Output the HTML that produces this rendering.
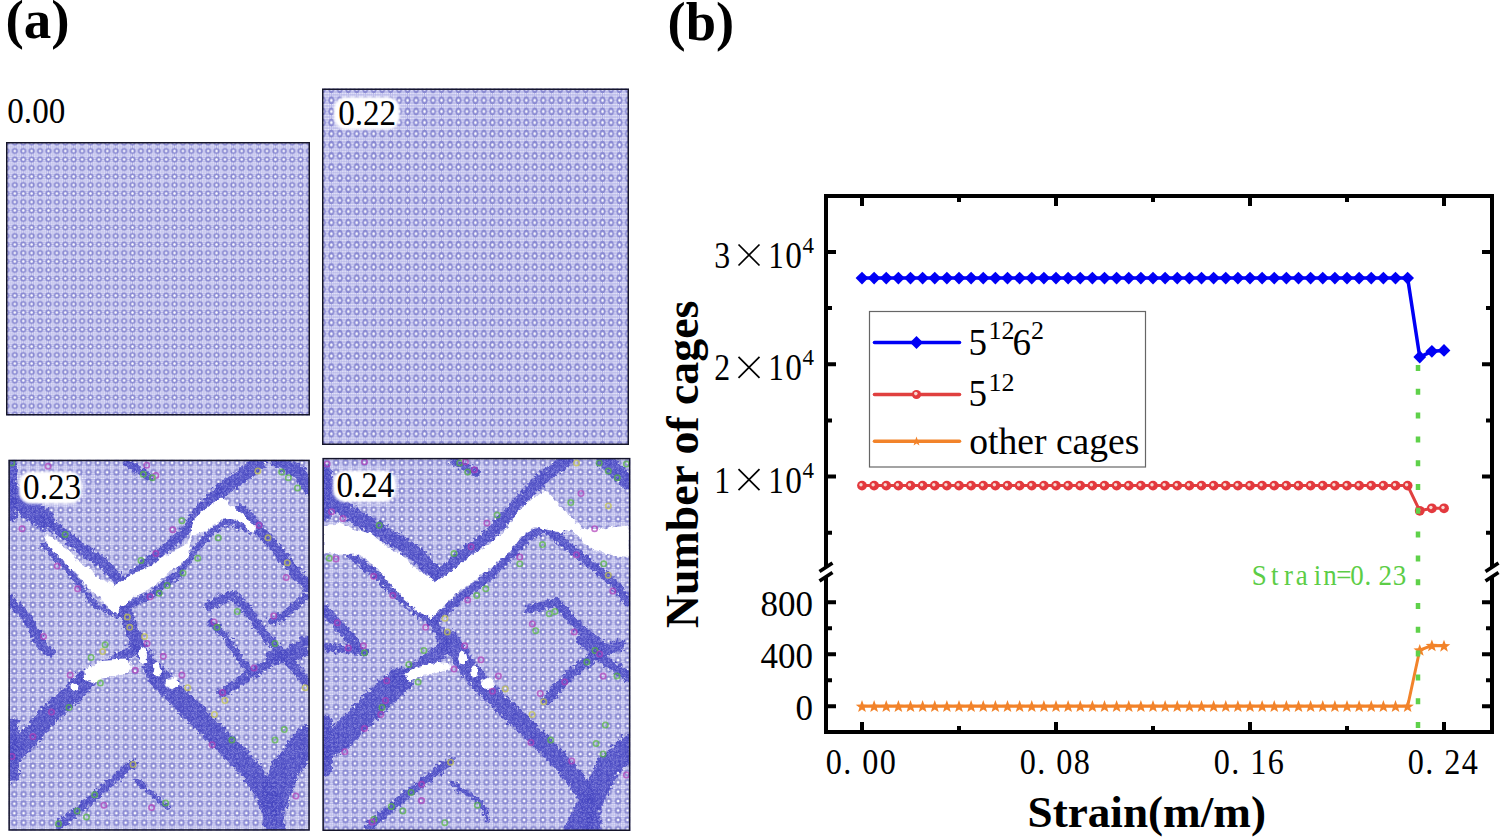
<!DOCTYPE html>
<html><head><meta charset="utf-8"><style>
html,body{margin:0;padding:0;background:#fff;}
svg{display:block;}
text{font-family:"Liberation Serif",serif;}
</style></head><body>
<svg width="1500" height="838" viewBox="0 0 1500 838">
<defs>

<pattern id="latA" patternUnits="userSpaceOnUse" width="10" height="10" patternTransform="translate(2.248,2.25) scale(0.8404,0.85)"><rect width="10" height="10" fill="#b4b4e8"/>
<g fill="#f6f6ff"><circle cx="1.25" cy="1.25" r="0.85"/><circle cx="1.25" cy="3.75" r="0.85"/><circle cx="1.25" cy="6.25" r="0.85"/><circle cx="1.25" cy="8.75" r="0.85"/><circle cx="3.75" cy="1.25" r="0.85"/><circle cx="3.75" cy="8.75" r="0.85"/><circle cx="6.25" cy="1.25" r="0.85"/><circle cx="6.25" cy="8.75" r="0.85"/><circle cx="8.75" cy="1.25" r="0.85"/><circle cx="8.75" cy="3.75" r="0.85"/><circle cx="8.75" cy="6.25" r="0.85"/><circle cx="8.75" cy="8.75" r="0.85"/></g>
<circle cx="5" cy="5" r="2.7" fill="none" stroke="#8989d2" stroke-width="1.9"/>
<circle cx="5" cy="5" r="1.3" fill="#ffffff"/>
</pattern>
<pattern id="latB" patternUnits="userSpaceOnUse" width="10" height="10" patternTransform="translate(-3.4880000000000004,-5.2575) scale(0.8476,1.1115)"><rect width="10" height="10" fill="#b4b4e8"/>
<g fill="#f6f6ff"><circle cx="1.25" cy="1.25" r="0.85"/><circle cx="1.25" cy="3.75" r="0.85"/><circle cx="1.25" cy="6.25" r="0.85"/><circle cx="1.25" cy="8.75" r="0.85"/><circle cx="3.75" cy="1.25" r="0.85"/><circle cx="3.75" cy="8.75" r="0.85"/><circle cx="6.25" cy="1.25" r="0.85"/><circle cx="6.25" cy="8.75" r="0.85"/><circle cx="8.75" cy="1.25" r="0.85"/><circle cx="8.75" cy="3.75" r="0.85"/><circle cx="8.75" cy="6.25" r="0.85"/><circle cx="8.75" cy="8.75" r="0.85"/></g>
<circle cx="5" cy="5" r="2.7" fill="none" stroke="#8989d2" stroke-width="1.9"/>
<circle cx="5" cy="5" r="1.3" fill="#ffffff"/>
</pattern>
<pattern id="latC" patternUnits="userSpaceOnUse" width="10" height="10" patternTransform="translate(0.40000000000000036,3.5149999999999997) scale(0.928,0.947)"><rect width="10" height="10" fill="#b4b4e8"/>
<g fill="#f6f6ff"><circle cx="1.25" cy="1.25" r="0.85"/><circle cx="1.25" cy="3.75" r="0.85"/><circle cx="1.25" cy="6.25" r="0.85"/><circle cx="1.25" cy="8.75" r="0.85"/><circle cx="3.75" cy="1.25" r="0.85"/><circle cx="3.75" cy="8.75" r="0.85"/><circle cx="6.25" cy="1.25" r="0.85"/><circle cx="6.25" cy="8.75" r="0.85"/><circle cx="8.75" cy="1.25" r="0.85"/><circle cx="8.75" cy="3.75" r="0.85"/><circle cx="8.75" cy="6.25" r="0.85"/><circle cx="8.75" cy="8.75" r="0.85"/></g>
<circle cx="5" cy="5" r="2.7" fill="none" stroke="#8989d2" stroke-width="1.9"/>
<circle cx="5" cy="5" r="1.3" fill="#ffffff"/>
</pattern>
<pattern id="latD" patternUnits="userSpaceOnUse" width="10" height="10" patternTransform="translate(322,458) scale(0.94,0.94)"><rect width="10" height="10" fill="#b4b4e8"/>
<g fill="#f6f6ff"><circle cx="1.25" cy="1.25" r="0.85"/><circle cx="1.25" cy="3.75" r="0.85"/><circle cx="1.25" cy="6.25" r="0.85"/><circle cx="1.25" cy="8.75" r="0.85"/><circle cx="3.75" cy="1.25" r="0.85"/><circle cx="3.75" cy="8.75" r="0.85"/><circle cx="6.25" cy="1.25" r="0.85"/><circle cx="6.25" cy="8.75" r="0.85"/><circle cx="8.75" cy="1.25" r="0.85"/><circle cx="8.75" cy="3.75" r="0.85"/><circle cx="8.75" cy="6.25" r="0.85"/><circle cx="8.75" cy="8.75" r="0.85"/></g>
<circle cx="5" cy="5" r="2.7" fill="none" stroke="#8989d2" stroke-width="1.9"/>
<circle cx="5" cy="5" r="1.3" fill="#ffffff"/>
</pattern>
<pattern id="bandpat" patternUnits="userSpaceOnUse" width="4" height="4"><rect width="4" height="4" fill="#3232bc"/><circle cx="1" cy="1" r="0.75" fill="#9090e4"/><circle cx="3" cy="3" r="0.6" fill="#6a6ad4"/></pattern>
<filter id="fl" x="0" y="0" width="100%" height="100%"><feGaussianBlur stdDeviation="0.45"/></filter>
<filter id="fz" x="-10%" y="-10%" width="120%" height="120%"><feTurbulence type="fractalNoise" baseFrequency="0.3" numOctaves="2" seed="3" result="t"/><feDisplacementMap in="SourceGraphic" in2="t" scale="9" xChannelSelector="R" yChannelSelector="G" result="d"/><feGaussianBlur in="d" stdDeviation="0.6"/></filter>
<filter id="fw" x="-10%" y="-10%" width="120%" height="120%"><feTurbulence type="fractalNoise" baseFrequency="0.22" numOctaves="2" seed="7" result="t"/><feDisplacementMap in="SourceGraphic" in2="t" scale="6" xChannelSelector="R" yChannelSelector="G" result="d"/><feGaussianBlur in="d" stdDeviation="0.5"/></filter>
<filter id="blur1" x="-20%" y="-20%" width="140%" height="140%"><feGaussianBlur stdDeviation="1.2"/></filter>
<clipPath id="c23"><rect x="9.5" y="460.5" width="299.5" height="369.5"/></clipPath>
<clipPath id="c24"><rect x="323.5" y="459" width="306" height="371"/></clipPath>
</defs>
<text x="5.5" y="38" font-size="55" font-weight="bold">(a)</text>
<text x="667.5" y="40" font-size="54.5" font-weight="bold">(b)</text>
<rect x="6" y="142" width="304" height="273.5" fill="url(#latA)" filter="url(#fl)"/>
<rect x="6.75" y="142.75" width="302.5" height="272.0" fill="none" stroke="#15152a" stroke-width="1.5"/>
<rect x="322" y="88.5" width="307" height="356.5" fill="url(#latB)" filter="url(#fl)"/>
<rect x="322.75" y="89.25" width="305.5" height="355.0" fill="none" stroke="#15152a" stroke-width="1.5"/>
<rect x="8.4" y="459.7" width="301.40000000000003" height="371.00000000000006" fill="url(#latC)" filter="url(#fl)"/>
<rect x="322.4" y="457.9" width="308.0" height="373.1" fill="url(#latD)" filter="url(#fl)"/>
<g clip-path="url(#c23)">
<g filter="url(#fz)" stroke="url(#bandpat)" stroke-opacity="0.9" fill="none" stroke-linecap="round" stroke-linejoin="round">
<polyline points="11,462 11,515" stroke-width="12"/>
<polyline points="9.5,490 27.7,508 45,520" stroke-width="20"/>
<polyline points="45,520 50.4,524 79.8,547 104.8,565 120.6,582" stroke-width="11"/>
<polyline points="44,545 70,572 95,605 118,615" stroke-width="6"/>
<polyline points="122.9,585 145.6,563 168.3,547 186.4,530 200,509 220.4,491" stroke-width="10"/>
<polyline points="220.4,491 243.1,475 259,462" stroke-width="14"/>
<polyline points="122,608 154,593 180,572 197,548 212,531 227,521 241,525 256,533" stroke-width="7"/>
<polyline points="240.8,509.4 259,529.8 277.1,550.2 295.3,572.9 308.9,586.5" stroke-width="11"/>
<polyline points="277,459.5 300,473 309,487" stroke-width="14"/>
<polyline points="127,462 150,478" stroke-width="8"/>
<polyline points="208.6,605.8 233.5,594.4 246.8,609.7 260.2,628.8 279.3,651.7 294.6,667 306,682" stroke-width="9"/>
<polyline points="210.6,623 225.8,636.4 241.1,661.2 256.4,674.6" stroke-width="7"/>
<polyline points="269.8,655.5 287,659.3 306,651.7" stroke-width="9"/>
<polyline points="304,598 283,617 272,621" stroke-width="8"/>
<polyline points="9.5,600 27.7,618 41,645 50,652" stroke-width="10"/>
<polyline points="10,756 29.8,737.3 47.7,715.8 65.6,700.3 84,681" stroke-width="20"/>
<polyline points="84,677 102.7,667.9 135.3,649.3" stroke-width="12"/>
<polyline points="12,725 12,775" stroke-width="14"/>
<polyline points="122.9,605 135.3,640 156.3,674.9" stroke-width="14"/>
<polyline points="156.3,674.9 179.5,698.2 214.4,733.1 249.4,768 272.6,802.9 275,835" stroke-width="21"/>
<polyline points="307.5,740 284.3,770.3 272.6,802.9" stroke-width="28"/>
<polyline points="221.4,693.5 256.3,670.3 284.3,654 307.5,640" stroke-width="9"/>
<polyline points="58.5,826.2 98.1,793.6 133,763.3" stroke-width="8"/>
<polyline points="135.3,779.6 167.9,807.6" stroke-width="5"/>
</g>
<rect x="8.4" y="459.7" width="301.40000000000003" height="371.00000000000006" fill="url(#latC)" opacity="0.2"/>
<g fill="#ffffff" filter="url(#fw)">
<polygon points="45.5,535 53.3,537.5 61,545 68.8,550 76.5,559 81.2,563.5 90.5,568.5 96.7,577.5 110.6,582.5 121.5,590 118.4,614.5 110.6,610 98.2,596 88.9,588.5 81.2,579 76.5,573 68.8,568 64.1,560.5 57.9,556 50.2,548 45.5,540.5"/>
<polygon points="115,585 136.7,571.5 151.7,565 171.8,552 188.5,543 193.5,519.5 208.5,506.5 221.9,497.5 231.9,506 245.3,516 255.3,527 253.6,534 241.9,523 231.9,519 221.9,519 208.5,530 191.8,535.5 186.8,560 173.5,568.5 155.1,585 136.7,595 125,605 115,608"/>
<polygon points="84.1,670.3 102.7,659.8 126,658.6 133,665.6 128.3,672.6 107.4,677.2 93.4,683.1 85.3,679.6"/>
<ellipse cx="75" cy="687" rx="4.5" ry="3.8"/>
<ellipse cx="143" cy="656" rx="4" ry="9"/>
<ellipse cx="157" cy="670" rx="4" ry="7"/>
<ellipse cx="172" cy="683" rx="6.5" ry="6"/>
</g>
<g fill="none" stroke-width="1.6" opacity="0.7">
<circle cx="11.8" cy="462.9" r="2.7" stroke="#55b83c"/>
<circle cx="48.1" cy="466.3" r="2.7" stroke="#b03cb8"/>
<circle cx="146.7" cy="465.2" r="2.7" stroke="#b03cb8"/>
<circle cx="143.3" cy="474.3" r="2.7" stroke="#55b83c"/>
<circle cx="155.8" cy="475.4" r="2.7" stroke="#b03cb8"/>
<circle cx="152.4" cy="477.7" r="2.7" stroke="#55b83c"/>
<circle cx="257.8" cy="470.9" r="2.7" stroke="#c8c84a"/>
<circle cx="281.6" cy="472" r="2.7" stroke="#55b83c"/>
<circle cx="288.4" cy="477.7" r="2.7" stroke="#55b83c"/>
<circle cx="297.5" cy="487.9" r="2.7" stroke="#55b83c"/>
<circle cx="22" cy="528.7" r="2.7" stroke="#b03cb8"/>
<circle cx="65.1" cy="534.4" r="2.7" stroke="#55b83c"/>
<circle cx="57.2" cy="566.1" r="2.7" stroke="#b03cb8"/>
<circle cx="181.9" cy="520.8" r="2.7" stroke="#55b83c"/>
<circle cx="172.8" cy="529.8" r="2.7" stroke="#b03cb8"/>
<circle cx="141" cy="560.4" r="2.7" stroke="#55b83c"/>
<circle cx="155.8" cy="553.6" r="2.7" stroke="#b03cb8"/>
<circle cx="197.7" cy="558.2" r="2.7" stroke="#55b83c"/>
<circle cx="218.2" cy="537.8" r="2.7" stroke="#55b83c"/>
<circle cx="259" cy="525.3" r="2.7" stroke="#b03cb8"/>
<circle cx="268" cy="537.8" r="2.7" stroke="#c8c84a"/>
<circle cx="287.3" cy="562.7" r="2.7" stroke="#c8c84a"/>
<circle cx="286.2" cy="577.4" r="2.7" stroke="#b03cb8"/>
<circle cx="183" cy="572.9" r="2.7" stroke="#55b83c"/>
<circle cx="167.1" cy="585.4" r="2.7" stroke="#55b83c"/>
<circle cx="159.2" cy="593.3" r="2.7" stroke="#55b83c"/>
<circle cx="150.1" cy="596.7" r="2.7" stroke="#b03cb8"/>
<circle cx="77.6" cy="588.8" r="2.7" stroke="#b03cb8"/>
<circle cx="127.4" cy="617.1" r="2.7" stroke="#c8c84a"/>
<circle cx="129.7" cy="627.3" r="2.7" stroke="#c8c84a"/>
<circle cx="214" cy="622" r="2.7" stroke="#b03cb8"/>
<circle cx="217" cy="627.3" r="2.7" stroke="#55b83c"/>
<circle cx="237.3" cy="611.5" r="2.7" stroke="#55b83c"/>
<circle cx="273.7" cy="616" r="2.7" stroke="#b03cb8"/>
<circle cx="43.5" cy="636.4" r="2.7" stroke="#b03cb8"/>
<circle cx="144.5" cy="636.4" r="2.7" stroke="#c8c84a"/>
<circle cx="105.1" cy="644.7" r="2.7" stroke="#55b83c"/>
<circle cx="102.7" cy="651.6" r="2.7" stroke="#c8c84a"/>
<circle cx="91.1" cy="657.5" r="2.7" stroke="#55b83c"/>
<circle cx="70.2" cy="674.9" r="2.7" stroke="#b03cb8"/>
<circle cx="100.4" cy="683.1" r="2.7" stroke="#55b83c"/>
<circle cx="147" cy="643.5" r="2.7" stroke="#b03cb8"/>
<circle cx="163.3" cy="656.3" r="2.7" stroke="#b03cb8"/>
<circle cx="181.9" cy="674.9" r="2.7" stroke="#b03cb8"/>
<circle cx="187.7" cy="687.7" r="2.7" stroke="#c8c84a"/>
<circle cx="135.3" cy="670.3" r="2.7" stroke="#b03cb8"/>
<circle cx="214.4" cy="714.5" r="2.7" stroke="#c8c84a"/>
<circle cx="231.9" cy="740.1" r="2.7" stroke="#55b83c"/>
<circle cx="212.1" cy="744.7" r="2.7" stroke="#b03cb8"/>
<circle cx="224.9" cy="700.5" r="2.7" stroke="#c8c84a"/>
<circle cx="222.6" cy="692.4" r="2.7" stroke="#b03cb8"/>
<circle cx="305.2" cy="687.7" r="2.7" stroke="#c8c84a"/>
<circle cx="275" cy="643.5" r="2.7" stroke="#55b83c"/>
<circle cx="284.3" cy="729.6" r="2.7" stroke="#55b83c"/>
<circle cx="275" cy="740.1" r="2.7" stroke="#55b83c"/>
<circle cx="254" cy="667.9" r="2.7" stroke="#b03cb8"/>
<circle cx="32.9" cy="736.6" r="2.7" stroke="#b03cb8"/>
<circle cx="12" cy="756.4" r="2.7" stroke="#b03cb8"/>
<circle cx="51.5" cy="712.1" r="2.7" stroke="#b03cb8"/>
<circle cx="69" cy="707.5" r="2.7" stroke="#55b83c"/>
<circle cx="295.9" cy="795.9" r="2.7" stroke="#b03cb8"/>
<circle cx="133" cy="764.5" r="2.7" stroke="#c8c84a"/>
<circle cx="94.6" cy="794.8" r="2.7" stroke="#55b83c"/>
<circle cx="103.9" cy="805.2" r="2.7" stroke="#b03cb8"/>
<circle cx="77.1" cy="811" r="2.7" stroke="#55b83c"/>
<circle cx="86.5" cy="816.9" r="2.7" stroke="#55b83c"/>
<circle cx="58.5" cy="823.8" r="2.7" stroke="#55b83c"/>
<circle cx="151.6" cy="807.6" r="2.7" stroke="#b03cb8"/>
<circle cx="165.6" cy="802.9" r="2.7" stroke="#55b83c"/>
</g></g>
<g clip-path="url(#c24)">
<g filter="url(#fz)" stroke="url(#bandpat)" stroke-opacity="0.9" fill="none" stroke-linecap="round" stroke-linejoin="round">
<polyline points="325,470 325,515" stroke-width="12"/>
<polyline points="324.8,477.7 331.6,500.4 352,514 374.7,527.6 397.4,541.2 420,557 435.9,575.2" stroke-width="15"/>
<polyline points="438.2,577.4 465.4,552.5 490.3,534.4 510.7,511.7 533.4,486.7 551.6,470.9 567.4,459.5" stroke-width="12"/>
<polyline points="435.9,618.3 463.1,595.6 490.3,575.2 510.7,554.8 528.9,536.6 544.8,527.6 558.4,532.1" stroke-width="9"/>
<polyline points="544.8,527.6 567.4,545.7 590.1,563.8 612.8,582 628.7,602.4" stroke-width="9"/>
<polyline points="349.7,554.8 374.7,572.9 397.4,595.6 420,613.7 433.6,622.8" stroke-width="8"/>
<polyline points="603.7,459.5 628.7,482.2" stroke-width="15"/>
<polyline points="454,461.8 476.7,473.1" stroke-width="8"/>
<polyline points="433.6,622.8 445,645" stroke-width="10"/>
<polyline points="323.7,609.2 340.7,627.3 356.5,645" stroke-width="10"/>
<polyline points="528.9,609.2 556,602.4 578.8,627.3 601.5,645" stroke-width="9"/>
<polyline points="325,747 341.3,736.6 376.2,701.7 400,680" stroke-width="26"/>
<polyline points="400,680 411.1,672.6 443.7,649.3" stroke-width="14"/>
<polyline points="325,722 325,770" stroke-width="14"/>
<polyline points="450.6,640 469.3,670.3 492.5,695.9 527.4,728.4 562.4,763.3 585.6,793.6 592.6,821.5 592.6,835" stroke-width="18"/>
<polyline points="629.8,747 608.9,765.7 592.6,798.2 574,835" stroke-width="24"/>
<polyline points="546.1,700.5 569.3,674.9 597.3,654 620.5,644.7" stroke-width="10"/>
<polyline points="581,640 608.9,663.3 629.8,677.2" stroke-width="10"/>
<polyline points="369.2,826.2 411.1,791.3 450.6,761" stroke-width="8"/>
<polyline points="453,784.3 480.9,802.9 487.9,819.2" stroke-width="5"/>
<polyline points="325,647 364.5,651.6" stroke-width="8"/>
</g>
<rect x="322.4" y="457.9" width="308.0" height="373.1" fill="url(#latD)" opacity="0.2"/>
<g fill="#ffffff" filter="url(#fw)">
<polygon points="323.7,525.3 340.7,523 356.5,529.8 372.4,534.4 386,545.7 401.9,554.8 415.5,568.4 435.9,582 454,568.4 472.2,554.8 490.3,543.4 506.2,529.8 517.5,511.7 535.7,495.8 547,491.3 558.4,504.9 572,518.5 581,527.6 594.6,529.8 610.5,527.6 628.7,525.3 628.7,557 610.5,554.8 594.6,550.2 585.6,543.4 572,529.8 558.4,532.1 535.7,527.6 522.1,536.6 508.5,552.5 490.3,568.4 472.2,582 454,595.6 438.2,611.5 431.4,618.3 417.8,611.5 404.2,600.1 390.6,584.3 374.7,566.1 358.8,554.8 340.7,554.8 323.7,552.5"/>
<polygon points="404.1,674.9 418.1,666.8 439,662.1 449.5,663.3 450.6,669.1 439,672.6 418.1,677.2 408.8,681.9"/>
<ellipse cx="462.7" cy="658.6" rx="4.5" ry="7"/>
<ellipse cx="474.4" cy="671.4" rx="4" ry="6"/>
<ellipse cx="487.9" cy="683.1" rx="7" ry="6"/>
</g>
<g fill="none" stroke-width="1.6" opacity="0.7">
<circle cx="327.1" cy="464.1" r="2.7" stroke="#b03cb8"/>
<circle cx="364.5" cy="461.8" r="2.7" stroke="#b03cb8"/>
<circle cx="459.7" cy="462.9" r="2.7" stroke="#55b83c"/>
<circle cx="465.4" cy="461.8" r="2.7" stroke="#b03cb8"/>
<circle cx="467.7" cy="472" r="2.7" stroke="#55b83c"/>
<circle cx="474.5" cy="469.7" r="2.7" stroke="#b03cb8"/>
<circle cx="576.5" cy="462.9" r="2.7" stroke="#c8c84a"/>
<circle cx="599.2" cy="462.9" r="2.7" stroke="#55b83c"/>
<circle cx="608.3" cy="470.9" r="2.7" stroke="#55b83c"/>
<circle cx="617.3" cy="477.7" r="2.7" stroke="#55b83c"/>
<circle cx="626.4" cy="464.1" r="2.7" stroke="#55b83c"/>
<circle cx="331.6" cy="511.7" r="2.7" stroke="#b03cb8"/>
<circle cx="342.9" cy="518.5" r="2.7" stroke="#b03cb8"/>
<circle cx="379.2" cy="525.3" r="2.7" stroke="#55b83c"/>
<circle cx="497.1" cy="515.1" r="2.7" stroke="#55b83c"/>
<circle cx="486.9" cy="523" r="2.7" stroke="#b03cb8"/>
<circle cx="454" cy="553.6" r="2.7" stroke="#55b83c"/>
<circle cx="471.1" cy="546.8" r="2.7" stroke="#b03cb8"/>
<circle cx="581" cy="493.5" r="2.7" stroke="#b03cb8"/>
<circle cx="570.8" cy="502.6" r="2.7" stroke="#55b83c"/>
<circle cx="608.3" cy="506" r="2.7" stroke="#c8c84a"/>
<circle cx="594.6" cy="528.7" r="2.7" stroke="#b03cb8"/>
<circle cx="329.3" cy="558.2" r="2.7" stroke="#55b83c"/>
<circle cx="336" cy="559" r="2.7" stroke="#b03cb8"/>
<circle cx="373.6" cy="576.3" r="2.7" stroke="#b03cb8"/>
<circle cx="576.5" cy="554.8" r="2.7" stroke="#b03cb8"/>
<circle cx="519.8" cy="563.8" r="2.7" stroke="#55b83c"/>
<circle cx="519.8" cy="557" r="2.7" stroke="#b03cb8"/>
<circle cx="542.5" cy="544.6" r="2.7" stroke="#55b83c"/>
<circle cx="603.7" cy="563.8" r="2.7" stroke="#55b83c"/>
<circle cx="608.3" cy="575.2" r="2.7" stroke="#c8c84a"/>
<circle cx="612.8" cy="591" r="2.7" stroke="#b03cb8"/>
<circle cx="485.8" cy="588.8" r="2.7" stroke="#55b83c"/>
<circle cx="476.7" cy="595.6" r="2.7" stroke="#55b83c"/>
<circle cx="467.7" cy="600.1" r="2.7" stroke="#b03cb8"/>
<circle cx="392.8" cy="595.6" r="2.7" stroke="#b03cb8"/>
<circle cx="445" cy="618.3" r="2.7" stroke="#c8c84a"/>
<circle cx="447.3" cy="631.9" r="2.7" stroke="#c8c84a"/>
<circle cx="425.7" cy="627.3" r="2.7" stroke="#b03cb8"/>
<circle cx="555" cy="611.5" r="2.7" stroke="#55b83c"/>
<circle cx="549.3" cy="613.7" r="2.7" stroke="#55b83c"/>
<circle cx="535.7" cy="630.7" r="2.7" stroke="#55b83c"/>
<circle cx="532.3" cy="623.9" r="2.7" stroke="#b03cb8"/>
<circle cx="574.2" cy="631.9" r="2.7" stroke="#b03cb8"/>
<circle cx="337.3" cy="622.8" r="2.7" stroke="#b03cb8"/>
<circle cx="348.3" cy="648.1" r="2.7" stroke="#b03cb8"/>
<circle cx="363.4" cy="645.8" r="2.7" stroke="#b03cb8"/>
<circle cx="364.5" cy="652.8" r="2.7" stroke="#55b83c"/>
<circle cx="423.9" cy="650.5" r="2.7" stroke="#55b83c"/>
<circle cx="408.8" cy="664.4" r="2.7" stroke="#55b83c"/>
<circle cx="386.7" cy="680.7" r="2.7" stroke="#b03cb8"/>
<circle cx="418.1" cy="681.9" r="2.7" stroke="#55b83c"/>
<circle cx="464.6" cy="645.8" r="2.7" stroke="#b03cb8"/>
<circle cx="454.1" cy="669.1" r="2.7" stroke="#b03cb8"/>
<circle cx="480.9" cy="659.8" r="2.7" stroke="#b03cb8"/>
<circle cx="498.4" cy="676.1" r="2.7" stroke="#b03cb8"/>
<circle cx="505.3" cy="688.9" r="2.7" stroke="#c8c84a"/>
<circle cx="492.5" cy="691.2" r="2.7" stroke="#b03cb8"/>
<circle cx="382" cy="707.5" r="2.7" stroke="#55b83c"/>
<circle cx="385.5" cy="700.5" r="2.7" stroke="#b03cb8"/>
<circle cx="380.8" cy="714.5" r="2.7" stroke="#b03cb8"/>
<circle cx="364.5" cy="728.4" r="2.7" stroke="#b03cb8"/>
<circle cx="344.8" cy="751.7" r="2.7" stroke="#b03cb8"/>
<circle cx="532.1" cy="714.5" r="2.7" stroke="#c8c84a"/>
<circle cx="540.2" cy="693.5" r="2.7" stroke="#b03cb8"/>
<circle cx="543.7" cy="701.7" r="2.7" stroke="#c8c84a"/>
<circle cx="550.7" cy="740.1" r="2.7" stroke="#55b83c"/>
<circle cx="530.9" cy="742.4" r="2.7" stroke="#b03cb8"/>
<circle cx="595" cy="650.5" r="2.7" stroke="#55b83c"/>
<circle cx="599.6" cy="654" r="2.7" stroke="#b03cb8"/>
<circle cx="586.8" cy="662.1" r="2.7" stroke="#55b83c"/>
<circle cx="617" cy="676.1" r="2.7" stroke="#55b83c"/>
<circle cx="603.1" cy="676.1" r="2.7" stroke="#b03cb8"/>
<circle cx="564.7" cy="681.9" r="2.7" stroke="#b03cb8"/>
<circle cx="605.4" cy="725" r="2.7" stroke="#55b83c"/>
<circle cx="596.1" cy="743.6" r="2.7" stroke="#55b83c"/>
<circle cx="603.1" cy="754" r="2.7" stroke="#55b83c"/>
<circle cx="571.7" cy="761" r="2.7" stroke="#b03cb8"/>
<circle cx="626.4" cy="775" r="2.7" stroke="#b03cb8"/>
<circle cx="450.6" cy="762.2" r="2.7" stroke="#c8c84a"/>
<circle cx="411.1" cy="792.4" r="2.7" stroke="#55b83c"/>
<circle cx="421.6" cy="784.3" r="2.7" stroke="#b03cb8"/>
<circle cx="421.6" cy="800.6" r="2.7" stroke="#b03cb8"/>
<circle cx="402.9" cy="811" r="2.7" stroke="#55b83c"/>
<circle cx="391.3" cy="806.4" r="2.7" stroke="#55b83c"/>
<circle cx="373.9" cy="819.2" r="2.7" stroke="#55b83c"/>
<circle cx="372" cy="822" r="2.7" stroke="#b03cb8"/>
<circle cx="477.4" cy="805.2" r="2.7" stroke="#55b83c"/>
<circle cx="444.8" cy="822.7" r="2.7" stroke="#55b83c"/>
</g></g>
<rect x="9.15" y="460.45" width="299.90000000000003" height="369.50000000000006" fill="none" stroke="#15152a" stroke-width="1.5"/>
<rect x="323.15" y="458.65" width="306.5" height="371.6" fill="none" stroke="#15152a" stroke-width="1.5"/>
<text transform="translate(7.3,123.2) scale(0.91,1)" font-size="36.4">0.00</text>
<rect x="334" y="97" width="65.5" height="32.400000000000006" rx="12" fill="#fff" filter="url(#blur1)"/>
<text transform="translate(338.2,124.7) scale(0.91,1)" font-size="36.4">0.22</text>
<rect x="19" y="471.6" width="63" height="32.19999999999999" rx="12" fill="#fff" filter="url(#blur1)"/>
<text transform="translate(23.1,499) scale(0.91,1)" font-size="36.4">0.23</text>
<rect x="333" y="470.4" width="63" height="31.5" rx="12" fill="#fff" filter="url(#blur1)"/>
<text transform="translate(336.4,497.2) scale(0.91,1)" font-size="36.4">0.24</text>
<g stroke="#000" stroke-width="4" fill="none" stroke-linecap="butt">
<path d="M826,194 V567 M826,576 V734"/>
<path d="M1492,194 V567 M1492,576 V734"/>
<path d="M824,196 H1494 M824,732 H1494"/>
<path d="M862.0,730 v-8 M862.0,198 v8"/>
<path d="M959.0,730 v-4 M959.0,198 v4"/>
<path d="M1056.0,730 v-8 M1056.0,198 v8"/>
<path d="M1153.0,730 v-4 M1153.0,198 v4"/>
<path d="M1250.0,730 v-8 M1250.0,198 v8"/>
<path d="M1347.0,730 v-4 M1347.0,198 v4"/>
<path d="M1444.0,730 v-8 M1444.0,198 v8"/>
<path d="M828,252.0 h8 M1490,252.0 h-8"/>
<path d="M828,308.1 h4 M1490,308.1 h-4"/>
<path d="M828,364.3 h8 M1490,364.3 h-8"/>
<path d="M828,420.5 h4 M1490,420.5 h-4"/>
<path d="M828,476.6 h8 M1490,476.6 h-8"/>
<path d="M828,532.8 h4 M1490,532.8 h-4"/>
<path d="M828,602.2 h8 M1490,602.2 h-8"/>
<path d="M828,628.2 h4 M1490,628.2 h-4"/>
<path d="M828,654.2 h8 M1490,654.2 h-8"/>
<path d="M828,680.2 h4 M1490,680.2 h-4"/>
<path d="M828,706.2 h8 M1490,706.2 h-8"/>
</g>
<path d="M819.5,571.5 L832.5,563" stroke="#000" stroke-width="3.6"/>
<path d="M819.5,581 L832.5,572.5" stroke="#000" stroke-width="3.6"/>
<path d="M1485.5,571.5 L1498.5,563" stroke="#000" stroke-width="3.6"/>
<path d="M1485.5,581 L1498.5,572.5" stroke="#000" stroke-width="3.6"/>
<polyline points="862.00,278.10 874.12,278.10 886.25,278.10 898.38,278.10 910.50,278.10 922.62,278.10 934.75,278.10 946.88,278.10 959.00,278.10 971.12,278.10 983.25,278.10 995.38,278.10 1007.50,278.10 1019.62,278.10 1031.75,278.10 1043.88,278.10 1056.00,278.10 1068.12,278.10 1080.25,278.10 1092.38,278.10 1104.50,278.10 1116.62,278.10 1128.75,278.10 1140.88,278.10 1153.00,278.10 1165.12,278.10 1177.25,278.10 1189.38,278.10 1201.50,278.10 1213.62,278.10 1225.75,278.10 1237.88,278.10 1250.00,278.10 1262.12,278.10 1274.25,278.10 1286.38,278.10 1298.50,278.10 1310.62,278.10 1322.75,278.10 1334.88,278.10 1347.00,278.10 1359.12,278.10 1371.25,278.10 1383.38,278.10 1395.50,278.10 1407.62,278.10 1419.75,357.00 1431.88,351.30 1444.00,350.40" fill="none" stroke="#0000f5" stroke-width="3.5"/>
<path d="M862.00,271.70 L868.40,278.10 L862.00,284.50 L855.60,278.10Z" fill="#0000f5"/>
<path d="M874.12,271.70 L880.52,278.10 L874.12,284.50 L867.73,278.10Z" fill="#0000f5"/>
<path d="M886.25,271.70 L892.65,278.10 L886.25,284.50 L879.85,278.10Z" fill="#0000f5"/>
<path d="M898.38,271.70 L904.77,278.10 L898.38,284.50 L891.98,278.10Z" fill="#0000f5"/>
<path d="M910.50,271.70 L916.90,278.10 L910.50,284.50 L904.10,278.10Z" fill="#0000f5"/>
<path d="M922.62,271.70 L929.02,278.10 L922.62,284.50 L916.23,278.10Z" fill="#0000f5"/>
<path d="M934.75,271.70 L941.15,278.10 L934.75,284.50 L928.35,278.10Z" fill="#0000f5"/>
<path d="M946.88,271.70 L953.27,278.10 L946.88,284.50 L940.48,278.10Z" fill="#0000f5"/>
<path d="M959.00,271.70 L965.40,278.10 L959.00,284.50 L952.60,278.10Z" fill="#0000f5"/>
<path d="M971.12,271.70 L977.52,278.10 L971.12,284.50 L964.73,278.10Z" fill="#0000f5"/>
<path d="M983.25,271.70 L989.65,278.10 L983.25,284.50 L976.85,278.10Z" fill="#0000f5"/>
<path d="M995.38,271.70 L1001.77,278.10 L995.38,284.50 L988.98,278.10Z" fill="#0000f5"/>
<path d="M1007.50,271.70 L1013.90,278.10 L1007.50,284.50 L1001.10,278.10Z" fill="#0000f5"/>
<path d="M1019.62,271.70 L1026.03,278.10 L1019.62,284.50 L1013.23,278.10Z" fill="#0000f5"/>
<path d="M1031.75,271.70 L1038.15,278.10 L1031.75,284.50 L1025.35,278.10Z" fill="#0000f5"/>
<path d="M1043.88,271.70 L1050.28,278.10 L1043.88,284.50 L1037.47,278.10Z" fill="#0000f5"/>
<path d="M1056.00,271.70 L1062.40,278.10 L1056.00,284.50 L1049.60,278.10Z" fill="#0000f5"/>
<path d="M1068.12,271.70 L1074.53,278.10 L1068.12,284.50 L1061.72,278.10Z" fill="#0000f5"/>
<path d="M1080.25,271.70 L1086.65,278.10 L1080.25,284.50 L1073.85,278.10Z" fill="#0000f5"/>
<path d="M1092.38,271.70 L1098.78,278.10 L1092.38,284.50 L1085.97,278.10Z" fill="#0000f5"/>
<path d="M1104.50,271.70 L1110.90,278.10 L1104.50,284.50 L1098.10,278.10Z" fill="#0000f5"/>
<path d="M1116.62,271.70 L1123.03,278.10 L1116.62,284.50 L1110.22,278.10Z" fill="#0000f5"/>
<path d="M1128.75,271.70 L1135.15,278.10 L1128.75,284.50 L1122.35,278.10Z" fill="#0000f5"/>
<path d="M1140.88,271.70 L1147.28,278.10 L1140.88,284.50 L1134.47,278.10Z" fill="#0000f5"/>
<path d="M1153.00,271.70 L1159.40,278.10 L1153.00,284.50 L1146.60,278.10Z" fill="#0000f5"/>
<path d="M1165.12,271.70 L1171.53,278.10 L1165.12,284.50 L1158.72,278.10Z" fill="#0000f5"/>
<path d="M1177.25,271.70 L1183.65,278.10 L1177.25,284.50 L1170.85,278.10Z" fill="#0000f5"/>
<path d="M1189.38,271.70 L1195.78,278.10 L1189.38,284.50 L1182.97,278.10Z" fill="#0000f5"/>
<path d="M1201.50,271.70 L1207.90,278.10 L1201.50,284.50 L1195.10,278.10Z" fill="#0000f5"/>
<path d="M1213.62,271.70 L1220.03,278.10 L1213.62,284.50 L1207.22,278.10Z" fill="#0000f5"/>
<path d="M1225.75,271.70 L1232.15,278.10 L1225.75,284.50 L1219.35,278.10Z" fill="#0000f5"/>
<path d="M1237.88,271.70 L1244.28,278.10 L1237.88,284.50 L1231.47,278.10Z" fill="#0000f5"/>
<path d="M1250.00,271.70 L1256.40,278.10 L1250.00,284.50 L1243.60,278.10Z" fill="#0000f5"/>
<path d="M1262.12,271.70 L1268.53,278.10 L1262.12,284.50 L1255.72,278.10Z" fill="#0000f5"/>
<path d="M1274.25,271.70 L1280.65,278.10 L1274.25,284.50 L1267.85,278.10Z" fill="#0000f5"/>
<path d="M1286.38,271.70 L1292.78,278.10 L1286.38,284.50 L1279.97,278.10Z" fill="#0000f5"/>
<path d="M1298.50,271.70 L1304.90,278.10 L1298.50,284.50 L1292.10,278.10Z" fill="#0000f5"/>
<path d="M1310.62,271.70 L1317.03,278.10 L1310.62,284.50 L1304.22,278.10Z" fill="#0000f5"/>
<path d="M1322.75,271.70 L1329.15,278.10 L1322.75,284.50 L1316.35,278.10Z" fill="#0000f5"/>
<path d="M1334.88,271.70 L1341.28,278.10 L1334.88,284.50 L1328.47,278.10Z" fill="#0000f5"/>
<path d="M1347.00,271.70 L1353.40,278.10 L1347.00,284.50 L1340.60,278.10Z" fill="#0000f5"/>
<path d="M1359.12,271.70 L1365.53,278.10 L1359.12,284.50 L1352.72,278.10Z" fill="#0000f5"/>
<path d="M1371.25,271.70 L1377.65,278.10 L1371.25,284.50 L1364.85,278.10Z" fill="#0000f5"/>
<path d="M1383.38,271.70 L1389.78,278.10 L1383.38,284.50 L1376.97,278.10Z" fill="#0000f5"/>
<path d="M1395.50,271.70 L1401.90,278.10 L1395.50,284.50 L1389.10,278.10Z" fill="#0000f5"/>
<path d="M1407.62,271.70 L1414.03,278.10 L1407.62,284.50 L1401.22,278.10Z" fill="#0000f5"/>
<path d="M1419.75,350.60 L1426.15,357.00 L1419.75,363.40 L1413.35,357.00Z" fill="#0000f5"/>
<path d="M1431.88,344.90 L1438.28,351.30 L1431.88,357.70 L1425.47,351.30Z" fill="#0000f5"/>
<path d="M1444.00,344.00 L1450.40,350.40 L1444.00,356.80 L1437.60,350.40Z" fill="#0000f5"/>
<polyline points="862.00,485.60 874.12,485.60 886.25,485.60 898.38,485.60 910.50,485.60 922.62,485.60 934.75,485.60 946.88,485.60 959.00,485.60 971.12,485.60 983.25,485.60 995.38,485.60 1007.50,485.60 1019.62,485.60 1031.75,485.60 1043.88,485.60 1056.00,485.60 1068.12,485.60 1080.25,485.60 1092.38,485.60 1104.50,485.60 1116.62,485.60 1128.75,485.60 1140.88,485.60 1153.00,485.60 1165.12,485.60 1177.25,485.60 1189.38,485.60 1201.50,485.60 1213.62,485.60 1225.75,485.60 1237.88,485.60 1250.00,485.60 1262.12,485.60 1274.25,485.60 1286.38,485.60 1298.50,485.60 1310.62,485.60 1322.75,485.60 1334.88,485.60 1347.00,485.60 1359.12,485.60 1371.25,485.60 1383.38,485.60 1395.50,485.60 1407.62,485.60 1419.75,510.80 1431.88,508.30 1444.00,508.30" fill="none" stroke="#e0403f" stroke-width="3"/>
<circle cx="862.00" cy="485.60" r="4.9" fill="#e3393e"/><circle cx="861.00" cy="484.80" r="1.7" fill="#f6d8d0"/>
<circle cx="874.12" cy="485.60" r="4.9" fill="#e3393e"/><circle cx="873.12" cy="484.80" r="1.7" fill="#f6d8d0"/>
<circle cx="886.25" cy="485.60" r="4.9" fill="#e3393e"/><circle cx="885.25" cy="484.80" r="1.7" fill="#f6d8d0"/>
<circle cx="898.38" cy="485.60" r="4.9" fill="#e3393e"/><circle cx="897.38" cy="484.80" r="1.7" fill="#f6d8d0"/>
<circle cx="910.50" cy="485.60" r="4.9" fill="#e3393e"/><circle cx="909.50" cy="484.80" r="1.7" fill="#f6d8d0"/>
<circle cx="922.62" cy="485.60" r="4.9" fill="#e3393e"/><circle cx="921.62" cy="484.80" r="1.7" fill="#f6d8d0"/>
<circle cx="934.75" cy="485.60" r="4.9" fill="#e3393e"/><circle cx="933.75" cy="484.80" r="1.7" fill="#f6d8d0"/>
<circle cx="946.88" cy="485.60" r="4.9" fill="#e3393e"/><circle cx="945.88" cy="484.80" r="1.7" fill="#f6d8d0"/>
<circle cx="959.00" cy="485.60" r="4.9" fill="#e3393e"/><circle cx="958.00" cy="484.80" r="1.7" fill="#f6d8d0"/>
<circle cx="971.12" cy="485.60" r="4.9" fill="#e3393e"/><circle cx="970.12" cy="484.80" r="1.7" fill="#f6d8d0"/>
<circle cx="983.25" cy="485.60" r="4.9" fill="#e3393e"/><circle cx="982.25" cy="484.80" r="1.7" fill="#f6d8d0"/>
<circle cx="995.38" cy="485.60" r="4.9" fill="#e3393e"/><circle cx="994.38" cy="484.80" r="1.7" fill="#f6d8d0"/>
<circle cx="1007.50" cy="485.60" r="4.9" fill="#e3393e"/><circle cx="1006.50" cy="484.80" r="1.7" fill="#f6d8d0"/>
<circle cx="1019.62" cy="485.60" r="4.9" fill="#e3393e"/><circle cx="1018.62" cy="484.80" r="1.7" fill="#f6d8d0"/>
<circle cx="1031.75" cy="485.60" r="4.9" fill="#e3393e"/><circle cx="1030.75" cy="484.80" r="1.7" fill="#f6d8d0"/>
<circle cx="1043.88" cy="485.60" r="4.9" fill="#e3393e"/><circle cx="1042.88" cy="484.80" r="1.7" fill="#f6d8d0"/>
<circle cx="1056.00" cy="485.60" r="4.9" fill="#e3393e"/><circle cx="1055.00" cy="484.80" r="1.7" fill="#f6d8d0"/>
<circle cx="1068.12" cy="485.60" r="4.9" fill="#e3393e"/><circle cx="1067.12" cy="484.80" r="1.7" fill="#f6d8d0"/>
<circle cx="1080.25" cy="485.60" r="4.9" fill="#e3393e"/><circle cx="1079.25" cy="484.80" r="1.7" fill="#f6d8d0"/>
<circle cx="1092.38" cy="485.60" r="4.9" fill="#e3393e"/><circle cx="1091.38" cy="484.80" r="1.7" fill="#f6d8d0"/>
<circle cx="1104.50" cy="485.60" r="4.9" fill="#e3393e"/><circle cx="1103.50" cy="484.80" r="1.7" fill="#f6d8d0"/>
<circle cx="1116.62" cy="485.60" r="4.9" fill="#e3393e"/><circle cx="1115.62" cy="484.80" r="1.7" fill="#f6d8d0"/>
<circle cx="1128.75" cy="485.60" r="4.9" fill="#e3393e"/><circle cx="1127.75" cy="484.80" r="1.7" fill="#f6d8d0"/>
<circle cx="1140.88" cy="485.60" r="4.9" fill="#e3393e"/><circle cx="1139.88" cy="484.80" r="1.7" fill="#f6d8d0"/>
<circle cx="1153.00" cy="485.60" r="4.9" fill="#e3393e"/><circle cx="1152.00" cy="484.80" r="1.7" fill="#f6d8d0"/>
<circle cx="1165.12" cy="485.60" r="4.9" fill="#e3393e"/><circle cx="1164.12" cy="484.80" r="1.7" fill="#f6d8d0"/>
<circle cx="1177.25" cy="485.60" r="4.9" fill="#e3393e"/><circle cx="1176.25" cy="484.80" r="1.7" fill="#f6d8d0"/>
<circle cx="1189.38" cy="485.60" r="4.9" fill="#e3393e"/><circle cx="1188.38" cy="484.80" r="1.7" fill="#f6d8d0"/>
<circle cx="1201.50" cy="485.60" r="4.9" fill="#e3393e"/><circle cx="1200.50" cy="484.80" r="1.7" fill="#f6d8d0"/>
<circle cx="1213.62" cy="485.60" r="4.9" fill="#e3393e"/><circle cx="1212.62" cy="484.80" r="1.7" fill="#f6d8d0"/>
<circle cx="1225.75" cy="485.60" r="4.9" fill="#e3393e"/><circle cx="1224.75" cy="484.80" r="1.7" fill="#f6d8d0"/>
<circle cx="1237.88" cy="485.60" r="4.9" fill="#e3393e"/><circle cx="1236.88" cy="484.80" r="1.7" fill="#f6d8d0"/>
<circle cx="1250.00" cy="485.60" r="4.9" fill="#e3393e"/><circle cx="1249.00" cy="484.80" r="1.7" fill="#f6d8d0"/>
<circle cx="1262.12" cy="485.60" r="4.9" fill="#e3393e"/><circle cx="1261.12" cy="484.80" r="1.7" fill="#f6d8d0"/>
<circle cx="1274.25" cy="485.60" r="4.9" fill="#e3393e"/><circle cx="1273.25" cy="484.80" r="1.7" fill="#f6d8d0"/>
<circle cx="1286.38" cy="485.60" r="4.9" fill="#e3393e"/><circle cx="1285.38" cy="484.80" r="1.7" fill="#f6d8d0"/>
<circle cx="1298.50" cy="485.60" r="4.9" fill="#e3393e"/><circle cx="1297.50" cy="484.80" r="1.7" fill="#f6d8d0"/>
<circle cx="1310.62" cy="485.60" r="4.9" fill="#e3393e"/><circle cx="1309.62" cy="484.80" r="1.7" fill="#f6d8d0"/>
<circle cx="1322.75" cy="485.60" r="4.9" fill="#e3393e"/><circle cx="1321.75" cy="484.80" r="1.7" fill="#f6d8d0"/>
<circle cx="1334.88" cy="485.60" r="4.9" fill="#e3393e"/><circle cx="1333.88" cy="484.80" r="1.7" fill="#f6d8d0"/>
<circle cx="1347.00" cy="485.60" r="4.9" fill="#e3393e"/><circle cx="1346.00" cy="484.80" r="1.7" fill="#f6d8d0"/>
<circle cx="1359.12" cy="485.60" r="4.9" fill="#e3393e"/><circle cx="1358.12" cy="484.80" r="1.7" fill="#f6d8d0"/>
<circle cx="1371.25" cy="485.60" r="4.9" fill="#e3393e"/><circle cx="1370.25" cy="484.80" r="1.7" fill="#f6d8d0"/>
<circle cx="1383.38" cy="485.60" r="4.9" fill="#e3393e"/><circle cx="1382.38" cy="484.80" r="1.7" fill="#f6d8d0"/>
<circle cx="1395.50" cy="485.60" r="4.9" fill="#e3393e"/><circle cx="1394.50" cy="484.80" r="1.7" fill="#f6d8d0"/>
<circle cx="1407.62" cy="485.60" r="4.9" fill="#e3393e"/><circle cx="1406.62" cy="484.80" r="1.7" fill="#f6d8d0"/>
<circle cx="1419.75" cy="510.80" r="4.9" fill="#e3393e"/><circle cx="1418.75" cy="510.00" r="1.7" fill="#f6d8d0"/>
<circle cx="1431.88" cy="508.30" r="4.9" fill="#e3393e"/><circle cx="1430.88" cy="507.50" r="1.7" fill="#f6d8d0"/>
<circle cx="1444.00" cy="508.30" r="4.9" fill="#e3393e"/><circle cx="1443.00" cy="507.50" r="1.7" fill="#f6d8d0"/>
<polyline points="862.00,706.20 874.12,706.20 886.25,706.20 898.38,706.20 910.50,706.20 922.62,706.20 934.75,706.20 946.88,706.20 959.00,706.20 971.12,706.20 983.25,706.20 995.38,706.20 1007.50,706.20 1019.62,706.20 1031.75,706.20 1043.88,706.20 1056.00,706.20 1068.12,706.20 1080.25,706.20 1092.38,706.20 1104.50,706.20 1116.62,706.20 1128.75,706.20 1140.88,706.20 1153.00,706.20 1165.12,706.20 1177.25,706.20 1189.38,706.20 1201.50,706.20 1213.62,706.20 1225.75,706.20 1237.88,706.20 1250.00,706.20 1262.12,706.20 1274.25,706.20 1286.38,706.20 1298.50,706.20 1310.62,706.20 1322.75,706.20 1334.88,706.20 1347.00,706.20 1359.12,706.20 1371.25,706.20 1383.38,706.20 1395.50,706.20 1407.62,706.20 1419.75,650.00 1431.88,645.50 1444.00,645.80" fill="none" stroke="#f2832a" stroke-width="3"/>
<path d="M862.00,700.10 L863.59,704.52 L868.28,704.66 L864.57,707.53 L865.88,712.04 L862.00,709.40 L858.12,712.04 L859.43,707.53 L855.72,704.66 L860.41,704.52Z" fill="#f2832a"/>
<path d="M874.12,700.10 L875.71,704.52 L880.40,704.66 L876.69,707.53 L878.00,712.04 L874.12,709.40 L870.25,712.04 L871.56,707.53 L867.85,704.66 L872.54,704.52Z" fill="#f2832a"/>
<path d="M886.25,700.10 L887.84,704.52 L892.53,704.66 L888.82,707.53 L890.13,712.04 L886.25,709.40 L882.37,712.04 L883.68,707.53 L879.97,704.66 L884.66,704.52Z" fill="#f2832a"/>
<path d="M898.38,700.10 L899.96,704.52 L904.65,704.66 L900.94,707.53 L902.25,712.04 L898.38,709.40 L894.50,712.04 L895.81,707.53 L892.10,704.66 L896.79,704.52Z" fill="#f2832a"/>
<path d="M910.50,700.10 L912.09,704.52 L916.78,704.66 L913.07,707.53 L914.38,712.04 L910.50,709.40 L906.62,712.04 L907.93,707.53 L904.22,704.66 L908.91,704.52Z" fill="#f2832a"/>
<path d="M922.62,700.10 L924.21,704.52 L928.90,704.66 L925.19,707.53 L926.50,712.04 L922.62,709.40 L918.75,712.04 L920.06,707.53 L916.35,704.66 L921.04,704.52Z" fill="#f2832a"/>
<path d="M934.75,700.10 L936.34,704.52 L941.03,704.66 L937.32,707.53 L938.63,712.04 L934.75,709.40 L930.87,712.04 L932.18,707.53 L928.47,704.66 L933.16,704.52Z" fill="#f2832a"/>
<path d="M946.88,700.10 L948.46,704.52 L953.15,704.66 L949.44,707.53 L950.75,712.04 L946.88,709.40 L943.00,712.04 L944.31,707.53 L940.60,704.66 L945.29,704.52Z" fill="#f2832a"/>
<path d="M959.00,700.10 L960.59,704.52 L965.28,704.66 L961.57,707.53 L962.88,712.04 L959.00,709.40 L955.12,712.04 L956.43,707.53 L952.72,704.66 L957.41,704.52Z" fill="#f2832a"/>
<path d="M971.12,700.10 L972.71,704.52 L977.40,704.66 L973.69,707.53 L975.00,712.04 L971.12,709.40 L967.25,712.04 L968.56,707.53 L964.85,704.66 L969.54,704.52Z" fill="#f2832a"/>
<path d="M983.25,700.10 L984.84,704.52 L989.53,704.66 L985.82,707.53 L987.13,712.04 L983.25,709.40 L979.37,712.04 L980.68,707.53 L976.97,704.66 L981.66,704.52Z" fill="#f2832a"/>
<path d="M995.38,700.10 L996.96,704.52 L1001.65,704.66 L997.94,707.53 L999.25,712.04 L995.38,709.40 L991.50,712.04 L992.81,707.53 L989.10,704.66 L993.79,704.52Z" fill="#f2832a"/>
<path d="M1007.50,700.10 L1009.09,704.52 L1013.78,704.66 L1010.07,707.53 L1011.38,712.04 L1007.50,709.40 L1003.62,712.04 L1004.93,707.53 L1001.22,704.66 L1005.91,704.52Z" fill="#f2832a"/>
<path d="M1019.62,700.10 L1021.21,704.52 L1025.90,704.66 L1022.19,707.53 L1023.50,712.04 L1019.62,709.40 L1015.75,712.04 L1017.06,707.53 L1013.35,704.66 L1018.04,704.52Z" fill="#f2832a"/>
<path d="M1031.75,700.10 L1033.34,704.52 L1038.03,704.66 L1034.32,707.53 L1035.63,712.04 L1031.75,709.40 L1027.87,712.04 L1029.18,707.53 L1025.47,704.66 L1030.16,704.52Z" fill="#f2832a"/>
<path d="M1043.88,700.10 L1045.46,704.52 L1050.15,704.66 L1046.44,707.53 L1047.75,712.04 L1043.88,709.40 L1040.00,712.04 L1041.31,707.53 L1037.60,704.66 L1042.29,704.52Z" fill="#f2832a"/>
<path d="M1056.00,700.10 L1057.59,704.52 L1062.28,704.66 L1058.57,707.53 L1059.88,712.04 L1056.00,709.40 L1052.12,712.04 L1053.43,707.53 L1049.72,704.66 L1054.41,704.52Z" fill="#f2832a"/>
<path d="M1068.12,700.10 L1069.71,704.52 L1074.40,704.66 L1070.69,707.53 L1072.00,712.04 L1068.12,709.40 L1064.25,712.04 L1065.56,707.53 L1061.85,704.66 L1066.54,704.52Z" fill="#f2832a"/>
<path d="M1080.25,700.10 L1081.84,704.52 L1086.53,704.66 L1082.82,707.53 L1084.13,712.04 L1080.25,709.40 L1076.37,712.04 L1077.68,707.53 L1073.97,704.66 L1078.66,704.52Z" fill="#f2832a"/>
<path d="M1092.38,700.10 L1093.96,704.52 L1098.65,704.66 L1094.94,707.53 L1096.25,712.04 L1092.38,709.40 L1088.50,712.04 L1089.81,707.53 L1086.10,704.66 L1090.79,704.52Z" fill="#f2832a"/>
<path d="M1104.50,700.10 L1106.09,704.52 L1110.78,704.66 L1107.07,707.53 L1108.38,712.04 L1104.50,709.40 L1100.62,712.04 L1101.93,707.53 L1098.22,704.66 L1102.91,704.52Z" fill="#f2832a"/>
<path d="M1116.62,700.10 L1118.21,704.52 L1122.90,704.66 L1119.19,707.53 L1120.50,712.04 L1116.62,709.40 L1112.75,712.04 L1114.06,707.53 L1110.35,704.66 L1115.04,704.52Z" fill="#f2832a"/>
<path d="M1128.75,700.10 L1130.34,704.52 L1135.03,704.66 L1131.32,707.53 L1132.63,712.04 L1128.75,709.40 L1124.87,712.04 L1126.18,707.53 L1122.47,704.66 L1127.16,704.52Z" fill="#f2832a"/>
<path d="M1140.88,700.10 L1142.46,704.52 L1147.15,704.66 L1143.44,707.53 L1144.75,712.04 L1140.88,709.40 L1137.00,712.04 L1138.31,707.53 L1134.60,704.66 L1139.29,704.52Z" fill="#f2832a"/>
<path d="M1153.00,700.10 L1154.59,704.52 L1159.28,704.66 L1155.57,707.53 L1156.88,712.04 L1153.00,709.40 L1149.12,712.04 L1150.43,707.53 L1146.72,704.66 L1151.41,704.52Z" fill="#f2832a"/>
<path d="M1165.12,700.10 L1166.71,704.52 L1171.40,704.66 L1167.69,707.53 L1169.00,712.04 L1165.12,709.40 L1161.25,712.04 L1162.56,707.53 L1158.85,704.66 L1163.54,704.52Z" fill="#f2832a"/>
<path d="M1177.25,700.10 L1178.84,704.52 L1183.53,704.66 L1179.82,707.53 L1181.13,712.04 L1177.25,709.40 L1173.37,712.04 L1174.68,707.53 L1170.97,704.66 L1175.66,704.52Z" fill="#f2832a"/>
<path d="M1189.38,700.10 L1190.96,704.52 L1195.65,704.66 L1191.94,707.53 L1193.25,712.04 L1189.38,709.40 L1185.50,712.04 L1186.81,707.53 L1183.10,704.66 L1187.79,704.52Z" fill="#f2832a"/>
<path d="M1201.50,700.10 L1203.09,704.52 L1207.78,704.66 L1204.07,707.53 L1205.38,712.04 L1201.50,709.40 L1197.62,712.04 L1198.93,707.53 L1195.22,704.66 L1199.91,704.52Z" fill="#f2832a"/>
<path d="M1213.62,700.10 L1215.21,704.52 L1219.90,704.66 L1216.19,707.53 L1217.50,712.04 L1213.62,709.40 L1209.75,712.04 L1211.06,707.53 L1207.35,704.66 L1212.04,704.52Z" fill="#f2832a"/>
<path d="M1225.75,700.10 L1227.34,704.52 L1232.03,704.66 L1228.32,707.53 L1229.63,712.04 L1225.75,709.40 L1221.87,712.04 L1223.18,707.53 L1219.47,704.66 L1224.16,704.52Z" fill="#f2832a"/>
<path d="M1237.88,700.10 L1239.46,704.52 L1244.15,704.66 L1240.44,707.53 L1241.75,712.04 L1237.88,709.40 L1234.00,712.04 L1235.31,707.53 L1231.60,704.66 L1236.29,704.52Z" fill="#f2832a"/>
<path d="M1250.00,700.10 L1251.59,704.52 L1256.28,704.66 L1252.57,707.53 L1253.88,712.04 L1250.00,709.40 L1246.12,712.04 L1247.43,707.53 L1243.72,704.66 L1248.41,704.52Z" fill="#f2832a"/>
<path d="M1262.12,700.10 L1263.71,704.52 L1268.40,704.66 L1264.69,707.53 L1266.00,712.04 L1262.12,709.40 L1258.25,712.04 L1259.56,707.53 L1255.85,704.66 L1260.54,704.52Z" fill="#f2832a"/>
<path d="M1274.25,700.10 L1275.84,704.52 L1280.53,704.66 L1276.82,707.53 L1278.13,712.04 L1274.25,709.40 L1270.37,712.04 L1271.68,707.53 L1267.97,704.66 L1272.66,704.52Z" fill="#f2832a"/>
<path d="M1286.38,700.10 L1287.96,704.52 L1292.65,704.66 L1288.94,707.53 L1290.25,712.04 L1286.38,709.40 L1282.50,712.04 L1283.81,707.53 L1280.10,704.66 L1284.79,704.52Z" fill="#f2832a"/>
<path d="M1298.50,700.10 L1300.09,704.52 L1304.78,704.66 L1301.07,707.53 L1302.38,712.04 L1298.50,709.40 L1294.62,712.04 L1295.93,707.53 L1292.22,704.66 L1296.91,704.52Z" fill="#f2832a"/>
<path d="M1310.62,700.10 L1312.21,704.52 L1316.90,704.66 L1313.19,707.53 L1314.50,712.04 L1310.62,709.40 L1306.75,712.04 L1308.06,707.53 L1304.35,704.66 L1309.04,704.52Z" fill="#f2832a"/>
<path d="M1322.75,700.10 L1324.34,704.52 L1329.03,704.66 L1325.32,707.53 L1326.63,712.04 L1322.75,709.40 L1318.87,712.04 L1320.18,707.53 L1316.47,704.66 L1321.16,704.52Z" fill="#f2832a"/>
<path d="M1334.88,700.10 L1336.46,704.52 L1341.15,704.66 L1337.44,707.53 L1338.75,712.04 L1334.88,709.40 L1331.00,712.04 L1332.31,707.53 L1328.60,704.66 L1333.29,704.52Z" fill="#f2832a"/>
<path d="M1347.00,700.10 L1348.59,704.52 L1353.28,704.66 L1349.57,707.53 L1350.88,712.04 L1347.00,709.40 L1343.12,712.04 L1344.43,707.53 L1340.72,704.66 L1345.41,704.52Z" fill="#f2832a"/>
<path d="M1359.12,700.10 L1360.71,704.52 L1365.40,704.66 L1361.69,707.53 L1363.00,712.04 L1359.12,709.40 L1355.25,712.04 L1356.56,707.53 L1352.85,704.66 L1357.54,704.52Z" fill="#f2832a"/>
<path d="M1371.25,700.10 L1372.84,704.52 L1377.53,704.66 L1373.82,707.53 L1375.13,712.04 L1371.25,709.40 L1367.37,712.04 L1368.68,707.53 L1364.97,704.66 L1369.66,704.52Z" fill="#f2832a"/>
<path d="M1383.38,700.10 L1384.96,704.52 L1389.65,704.66 L1385.94,707.53 L1387.25,712.04 L1383.38,709.40 L1379.50,712.04 L1380.81,707.53 L1377.10,704.66 L1381.79,704.52Z" fill="#f2832a"/>
<path d="M1395.50,700.10 L1397.09,704.52 L1401.78,704.66 L1398.07,707.53 L1399.38,712.04 L1395.50,709.40 L1391.62,712.04 L1392.93,707.53 L1389.22,704.66 L1393.91,704.52Z" fill="#f2832a"/>
<path d="M1407.62,700.10 L1409.21,704.52 L1413.90,704.66 L1410.19,707.53 L1411.50,712.04 L1407.62,709.40 L1403.75,712.04 L1405.06,707.53 L1401.35,704.66 L1406.04,704.52Z" fill="#f2832a"/>
<path d="M1419.75,643.90 L1421.34,648.32 L1426.03,648.46 L1422.32,651.33 L1423.63,655.84 L1419.75,653.20 L1415.87,655.84 L1417.18,651.33 L1413.47,648.46 L1418.16,648.32Z" fill="#f2832a"/>
<path d="M1431.88,639.40 L1433.46,643.82 L1438.15,643.96 L1434.44,646.83 L1435.75,651.34 L1431.88,648.70 L1428.00,651.34 L1429.31,646.83 L1425.60,643.96 L1430.29,643.82Z" fill="#f2832a"/>
<path d="M1444.00,639.70 L1445.59,644.12 L1450.28,644.26 L1446.57,647.13 L1447.88,651.64 L1444.00,649.00 L1440.12,651.64 L1441.43,647.13 L1437.72,644.26 L1442.41,644.12Z" fill="#f2832a"/>
<path d="M1418,365 V730" stroke="#5fd14a" stroke-width="4.5" stroke-dasharray="6 17.8"/>
<rect x="869.5" y="311.5" width="276" height="155.5" fill="none" stroke="#666" stroke-width="1.2"/>
<path d="M874.5,342.5 H959.5" stroke="#0000f5" stroke-width="3.6" stroke-linecap="round"/>
<path d="M916.5,336 L923,342.5 L916.5,349 L910,342.5Z" fill="#0000f5"/>
<path d="M874.5,394.5 H959.5" stroke="#e0403f" stroke-width="3.6" stroke-linecap="round"/>
<circle cx="916.5" cy="394.5" r="4.6" fill="#e3393e"/><circle cx="915.8" cy="393.6" r="1.8" fill="#f6d8d0"/>
<path d="M874.5,441.3 H959.5" stroke="#f2832a" stroke-width="3.6" stroke-linecap="round"/>
<path d="M916.50,436.50 L917.68,439.88 L921.26,439.95 L918.40,442.12 L919.44,445.55 L916.50,443.50 L913.56,445.55 L914.60,442.12 L911.74,439.95 L915.32,439.88Z" fill="#f2832a"/>
<text x="968.5" y="355" font-size="37">5</text><text x="988.5" y="339" font-size="26">12</text><text x="1012.5" y="355" font-size="37">6</text><text x="1031" y="339" font-size="26">2</text>
<text x="968.5" y="406" font-size="37">5</text><text x="988.5" y="390.5" font-size="26">12</text>
<text x="969.3" y="453.5" font-size="37.6">other cages</text>
<text transform="translate(861.5,774) scale(0.9,1)" font-size="35.8" letter-spacing="1.6" text-anchor="middle">0. 00</text>
<text transform="translate(1055.5,774) scale(0.9,1)" font-size="35.8" letter-spacing="1.6" text-anchor="middle">0. 08</text>
<text transform="translate(1249.5,774) scale(0.9,1)" font-size="35.8" letter-spacing="1.6" text-anchor="middle">0. 16</text>
<text transform="translate(1443.5,774) scale(0.9,1)" font-size="35.8" letter-spacing="1.6" text-anchor="middle">0. 24</text>
<text x="813" y="615.7" font-size="35" text-anchor="end">800</text>
<text x="813" y="667.7" font-size="35" text-anchor="end">400</text>
<text x="813" y="719.7" font-size="35" text-anchor="end">0</text>
<text transform="translate(714.3,268.0) scale(0.86,1)" font-size="37">3</text>
<path d="M738.5,244.5 L759.5,265.5 M759.5,244.5 L738.5,265.5" stroke="#000" stroke-width="1.7"/>
<text transform="translate(768.6,268.0) scale(0.82,1)" font-size="37">1</text>
<text transform="translate(785.3,268.0) scale(0.9,1)" font-size="37">0</text>
<text x="802.5" y="253.0" font-size="23">4</text>
<text transform="translate(714.3,380.3) scale(0.86,1)" font-size="37">2</text>
<path d="M738.5,356.8 L759.5,377.8 M759.5,356.8 L738.5,377.8" stroke="#000" stroke-width="1.7"/>
<text transform="translate(768.6,380.3) scale(0.82,1)" font-size="37">1</text>
<text transform="translate(785.3,380.3) scale(0.9,1)" font-size="37">0</text>
<text x="802.5" y="365.3" font-size="23">4</text>
<text transform="translate(714.3,492.6) scale(0.86,1)" font-size="37">1</text>
<path d="M738.5,469.1 L759.5,490.1 M759.5,469.1 L738.5,490.1" stroke="#000" stroke-width="1.7"/>
<text transform="translate(768.6,492.6) scale(0.82,1)" font-size="37">1</text>
<text transform="translate(785.3,492.6) scale(0.9,1)" font-size="37">0</text>
<text x="802.5" y="477.6" font-size="23">4</text>
<text x="1027.5" y="827" font-size="45.2" font-weight="bold">Strain(m/m)</text>
<text transform="translate(697.5,628) rotate(-90)" font-size="45.8" font-weight="bold">Number of cages</text>
<text transform="translate(1259.2,585) scale(0.93,1)" font-size="29" text-anchor="middle" fill="#5ccd46">S</text>
<text transform="translate(1274.8,585) scale(0.93,1)" font-size="29" text-anchor="middle" fill="#5ccd46">t</text>
<text transform="translate(1288.6,585) scale(0.93,1)" font-size="29" text-anchor="middle" fill="#5ccd46">r</text>
<text transform="translate(1301.8,585) scale(0.93,1)" font-size="29" text-anchor="middle" fill="#5ccd46">a</text>
<text transform="translate(1317.4,585) scale(0.93,1)" font-size="29" text-anchor="middle" fill="#5ccd46">i</text>
<text transform="translate(1330,585) scale(0.93,1)" font-size="29" text-anchor="middle" fill="#5ccd46">n</text>
<text transform="translate(1343.8,585) scale(0.93,1)" font-size="29" text-anchor="middle" fill="#5ccd46">=</text>
<text transform="translate(1357,585) scale(0.93,1)" font-size="29" text-anchor="middle" fill="#5ccd46">0</text>
<text transform="translate(1367.8,585) scale(0.93,1)" font-size="29" text-anchor="middle" fill="#5ccd46">.</text>
<text transform="translate(1385.2,585) scale(0.93,1)" font-size="29" text-anchor="middle" fill="#5ccd46">2</text>
<text transform="translate(1399.4,585) scale(0.93,1)" font-size="29" text-anchor="middle" fill="#5ccd46">3</text>
</svg></body></html>
